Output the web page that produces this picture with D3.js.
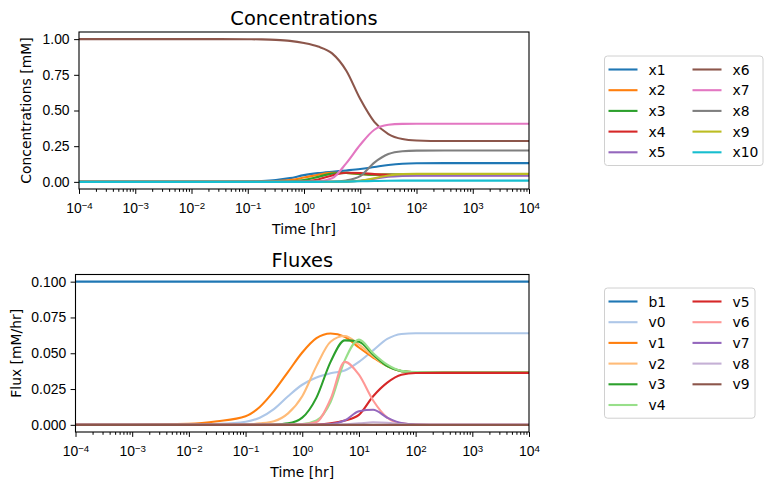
<!DOCTYPE html>
<html>
<head>
<meta charset="utf-8">
<script src="https://cdn.jsdelivr.net/npm/d3@7"></script>
<style>
  body { margin: 0; background: #fff; }
  svg { font-family: "DejaVu Sans", sans-serif; }
</style>
</head>
<body>
<div id="chart"></div>
<script>
// time points (hr), shared by every series
const timeHr = [1e-4, 1e-3, 1e-2, 0.0316, 0.1, 0.178, 0.316, 0.562, 1, 1.78, 3.16, 5.62, 10, 17.8, 31.6, 56.2, 100, 316, 1000, 10000];

// concentrations [mM]
const concNames = ["x1", "x2", "x3", "x4", "x5", "x6", "x7", "x8", "x9", "x10"];
const x1 = [0, 0, 0, 0.0005, 0.002, 0.005, 0.012, 0.026, 0.047, 0.061, 0.071, 0.08, 0.09, 0.104, 0.118, 0.127, 0.13, 0.131, 0.131, 0.131];
const x2 = [0, 0, 0, 0, 0, 0.001, 0.004, 0.012, 0.03, 0.05, 0.063, 0.062, 0.054, 0.05, 0.051, 0.052, 0.053, 0.053, 0.053, 0.053];
const x3 = [0, 0, 0, 0, 0, 0, 0.001, 0.003, 0.012, 0.035, 0.058, 0.063, 0.055, 0.05, 0.051, 0.052, 0.053, 0.053, 0.053, 0.053];
const x4 = [0, 0, 0, 0, 0, 0, 0, 0.001, 0.004, 0.017, 0.045, 0.064, 0.062, 0.054, 0.049, 0.047, 0.047, 0.047, 0.047, 0.047];
const x5 = [0, 0, 0, 0, 0, 0, 0, 0, 0, 0, 0.0005, 0.002, 0.008, 0.022, 0.036, 0.042, 0.044, 0.044, 0.044, 0.044];
const x6 = [1, 1, 1, 1, 0.999, 0.998, 0.995, 0.988, 0.973, 0.948, 0.9, 0.78, 0.58, 0.42, 0.335, 0.3, 0.29, 0.286, 0.286, 0.286];
const x7 = [0, 0, 0, 0, 0, 0, 0, 0, 0.001, 0.004, 0.025, 0.13, 0.26, 0.365, 0.4, 0.406, 0.407, 0.407, 0.407, 0.407];
const x8 = [0, 0, 0, 0, 0, 0, 0, 0, 0, 0.001, 0.002, 0.01, 0.04, 0.135, 0.195, 0.215, 0.219, 0.22, 0.22, 0.22];
const x9 = [0, 0, 0, 0, 0, 0, 0, 0, 0, 0, 0.001, 0.002, 0.008, 0.025, 0.045, 0.054, 0.056, 0.056, 0.056, 0.056];
const x10 = [0, 0, 0, 0, 0, 0, 0, 0, 0, 0, 0.001, 0.002, 0.004, 0.006, 0.008, 0.009, 0.009, 0.009, 0.009, 0.009];
const concSeries = [x1, x2, x3, x4, x5, x6, x7, x8, x9, x10];

// fluxes [mM/hr]
const fluxNames = ["b1", "v0", "v1", "v2", "v3", "v4", "v5", "v6", "v7", "v8", "v9"];
const b1 = [0.1, 0.1, 0.1, 0.1, 0.1, 0.1, 0.1, 0.1, 0.1, 0.1, 0.1, 0.1, 0.1, 0.1, 0.1, 0.1, 0.1, 0.1, 0.1, 0.1];
const v0 = [0, 0.0001, 0.0003, 0.0007, 0.0022, 0.005, 0.011, 0.02, 0.028, 0.033, 0.036, 0.038, 0.044, 0.052, 0.06, 0.0635, 0.064, 0.064, 0.064, 0.064];
const v1 = [0, 0.0001, 0.0007, 0.0025, 0.006, 0.0125, 0.0235, 0.037, 0.0505, 0.0605, 0.0638, 0.0615, 0.054, 0.047, 0.041, 0.0375, 0.0367, 0.0365, 0.0365, 0.0365];
const v2 = [0, 0, 0, 0, 0.0003, 0.001, 0.0025, 0.008, 0.02, 0.041, 0.058, 0.062, 0.056, 0.048, 0.041, 0.0375, 0.0367, 0.0365, 0.0365, 0.0365];
const v3 = [0, 0, 0, 0, 0, 0, 0.0002, 0.001, 0.005, 0.019, 0.044, 0.059, 0.058, 0.049, 0.041, 0.0375, 0.0367, 0.0365, 0.0365, 0.0365];
const v4 = [0, 0, 0, 0, 0, 0, 0, 0.0001, 0.0005, 0.003, 0.016, 0.045, 0.0595, 0.05, 0.042, 0.0377, 0.0368, 0.0366, 0.0366, 0.0366];
const v5 = [0, 0, 0, 0, 0, 0, 0, 0, 0, 0.0002, 0.001, 0.003, 0.007, 0.02, 0.0295, 0.035, 0.0362, 0.0363, 0.0363, 0.0363];
const v6 = [0, 0, 0, 0, 0, 0, 0, 0, 0.0003, 0.002, 0.018, 0.044, 0.035, 0.017, 0.005, 0.001, 0.0002, 0, 0, 0];
const v7 = [0, 0, 0, 0, 0, 0, 0, 0, 0, 0, 0.0005, 0.003, 0.0095, 0.0105, 0.005, 0.0012, 0.0002, 0, 0, 0];
const v8 = [0, 0, 0, 0, 0, 0, 0, 0, 0, 0, 0, 0.0003, 0.001, 0.0018, 0.0015, 0.0005, 0.0001, 0, 0, 0];
const v9 = [0, 0, 0, 0, 0, 0, 0, 0, 0, 0, 0, 0, 0, 0, 0, 0, 0, 0, 0, 0];
const fluxSeries = [b1, v0, v1, v2, v3, v4, v5, v6, v7, v8, v9];

// tick labels
const timeTicks = [1e-4, 1e-3, 1e-2, 1e-1, 1, 1e1, 1e2, 1e3, 1e4];
const concTicks = [0, 0.25, 0.5, 0.75, 1.0];
const fluxTicks = [0, 0.025, 0.05, 0.075, 0.1];

const tab20 = ["#1f77b4", "#aec7e8", "#ff7f0e", "#ffbb78", "#2ca02c", "#98df8a", "#d62728", "#ff9896", "#9467bd", "#c5b0d5", "#8c564b"];

const W = 773, H = 489;
const svg = d3.select("#chart").append("svg")
    .attr("width", W).attr("height", H);

function drawPanel(p) {
    var x = d3.scaleLog().domain([1e-4, 1e4]).range([p.left, p.right]);
    var y = d3.scaleLinear().domain(p.yDomain).range([p.bottom, p.top]);
    var g = svg.append("g");

    g.append("clipPath").attr("id", p.id + "-clip")
        .append("rect")
        .attr("x", p.left).attr("y", p.top)
        .attr("width", p.right - p.left).attr("height", p.bottom - p.top);

    // lines
    var line = d3.line()
        .x((d, i) => x(timeHr[i]))
        .y(d => y(d))
        .curve(d3.curveMonotoneX);
    p.series.forEach((s, i) => {
        g.append("path")
            .attr("clip-path", "url(#" + p.id + "-clip)")
            .attr("d", line(s))
            .attr("fill", "none")
            .attr("stroke", p.colors[i])
            .attr("stroke-width", 2.1);
    });

    // minor ticks on the log axis
    var minor = [];
    for (var e = -4; e < 4; e++) {
        for (var k = 2; k <= 9; k++) minor.push(k * Math.pow(10, e));
    }
    g.append("g")
        .attr("transform", "translate(0," + p.bottom + ")")
        .call(d3.axisBottom(x).tickValues(minor).tickSize(2.8).tickFormat(""))
        .call(a => a.select(".domain").remove());

    // major x ticks, labels as 10^n
    var xAxis = g.append("g")
        .attr("transform", "translate(0," + p.bottom + ")")
        .call(d3.axisBottom(x).tickValues(timeTicks).tickSize(4.9).tickFormat(""));
    xAxis.select(".domain").remove();
    xAxis.selectAll(".tick").each(function(d) {
        var t = d3.select(this).append("text")
            .attr("y", 24).attr("fill", "#000")
            .attr("text-anchor", "middle")
            .style("font-size", "13.9px");
        t.append("tspan").text("10");
        t.append("tspan")
            .attr("dy", "-0.45em").style("font-size", "9.7px")
            .text(String(Math.round(Math.log10(d))).replace("-", "\u2212"));
    });

    // y axis
    var yAxis = g.append("g")
        .attr("transform", "translate(" + p.left + ",0)")
        .call(d3.axisLeft(y).tickValues(p.yTicks).tickSize(4.9).tickPadding(4.5).tickFormat(d3.format(p.yFormat)));
    yAxis.select(".domain").remove();
    yAxis.selectAll("text").style("font-size", "13.9px").attr("fill", "#000");
    svg.selectAll(".tick line").attr("stroke-width", 1);

    // frame
    g.append("rect")
        .attr("x", p.left).attr("y", p.top)
        .attr("width", p.right - p.left).attr("height", p.bottom - p.top)
        .attr("fill", "none").attr("stroke", "#000").attr("stroke-width", 1.1);

    // title and labels
    g.append("text")
        .attr("x", (p.left + p.right) / 2).attr("y", p.top - 7.5)
        .attr("text-anchor", "middle")
        .style("font-size", "19.4px")
        .text(p.title);
    g.append("text")
        .attr("x", (p.left + p.right) / 2).attr("y", p.bottom + 45)
        .attr("text-anchor", "middle")
        .style("font-size", "13.9px")
        .text("Time [hr]");
    g.append("text")
        .attr("transform", "translate(" + p.yLabelX + "," + (p.top + p.bottom) / 2 + ") rotate(-90)")
        .attr("text-anchor", "middle")
        .style("font-size", "13.9px")
        .text(p.yLabel);

    // legend, two columns
    var lg = svg.append("g");
    var perCol = Math.ceil(p.names.length / 2);
    lg.append("rect")
        .attr("x", p.legX).attr("y", p.legY)
        .attr("width", p.legW).attr("height", perCol * 20.7 + 6)
        .attr("rx", 3)
        .attr("fill", "#fff").attr("stroke", "#d0d0d0").attr("stroke-width", 1);
    p.names.forEach((n, i) => {
        var col = Math.floor(i / perCol), row = i % perCol;
        var lx = p.legX + 4 + col * 84;
        var ly = p.legY + 13.5 + row * 20.7;
        lg.append("line")
            .attr("x1", lx).attr("x2", lx + 29)
            .attr("y1", ly).attr("y2", ly)
            .attr("stroke", p.colors[i]).attr("stroke-width", 2.1);
        lg.append("text")
            .attr("x", lx + 40).attr("y", ly + 5)
            .style("font-size", "13.9px")
            .text(n);
    });
}

drawPanel({
    id: "conc", title: "Concentrations", yLabel: "Concentrations [mM]", yLabelX: 30.5,
    left: 79, right: 529, top: 32, bottom: 189,
    yDomain: [-0.05, 1.05], yTicks: concTicks, yFormat: ".2f",
    series: concSeries, names: concNames, colors: d3.schemeCategory10,
    legX: 604.5, legY: 56, legW: 158.5
});

drawPanel({
    id: "flux", title: "Fluxes", yLabel: "Flux [mM/hr]", yLabelX: 20.5,
    left: 75.5, right: 529, top: 274.5, bottom: 432,
    yDomain: [-0.005, 0.105], yTicks: fluxTicks, yFormat: ".3f",
    series: fluxSeries, names: fluxNames, colors: tab20,
    legX: 604.5, legY: 288, legW: 150.5
});
</script>
</body>
</html>
